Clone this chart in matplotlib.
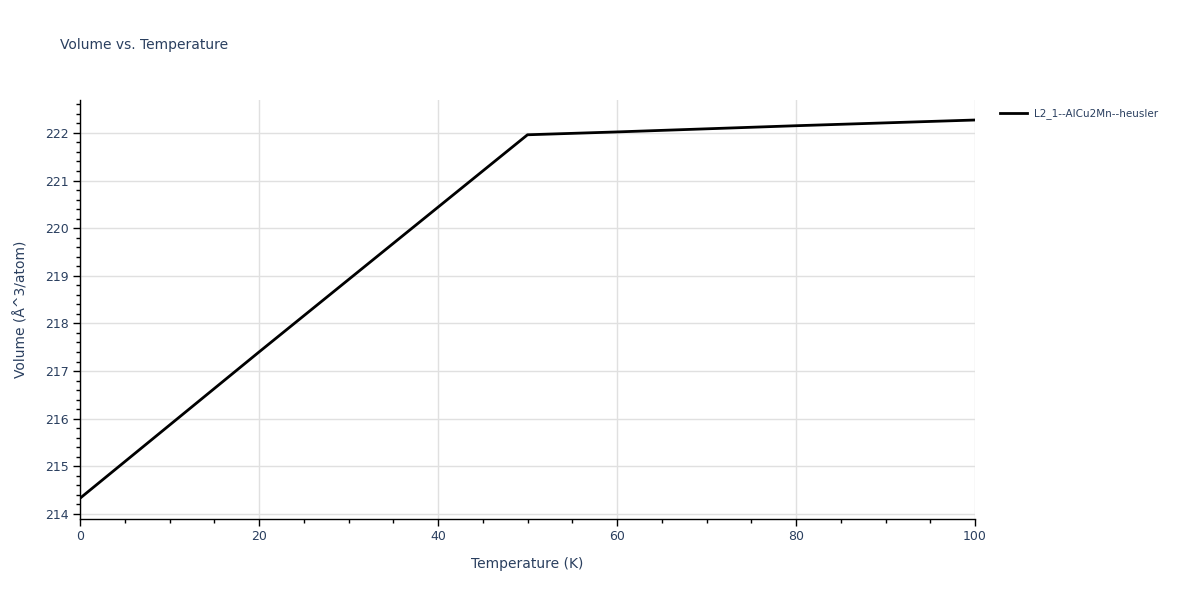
import matplotlib
matplotlib.use("Agg")
import matplotlib.pyplot as plt
from matplotlib.ticker import MultipleLocator

temperature = [0, 20, 40, 50, 60, 80, 100]
volume = [214.33, 217.40, 220.44, 221.96, 222.02, 222.15, 222.27]
series_name = "L2_1--AlCu2Mn--heusler"

plt.rcParams['font.family'] = ['DejaVu Sans']
txt = '#2a3f5f'

fig = plt.figure(figsize=(12, 6), dpi=100)
ax = fig.add_axes([80/1200, 1-519/600, (975-80)/1200, (519-100)/600])
ax.plot(temperature, volume, color='black', lw=2, label=series_name)
ax.set_xlim(0, 100)
ax.set_ylim(213.895, 222.69)
ax.xaxis.set_major_locator(MultipleLocator(20))
ax.xaxis.set_minor_locator(MultipleLocator(5))
ax.yaxis.set_major_locator(MultipleLocator(1))
ax.yaxis.set_minor_locator(MultipleLocator(0.2))
ax.grid(True, which='major', color='#e0e0e0', lw=1)
ax.set_axisbelow(True)
for s in ['top', 'right']:
    ax.spines[s].set_visible(False)
for s in ['left', 'bottom']:
    ax.spines[s].set_color('black')
    ax.spines[s].set_linewidth(1)
ax.tick_params(which='major', length=5, width=1, color='black', labelsize=9, labelcolor=txt, direction='out', pad=3)
ax.tick_params(which='minor', length=3, width=1, color='black', direction='out')
ax.set_xlabel('Temperature (K)', fontsize=10, color=txt, labelpad=10)
ax.set_ylabel('Volume (Å^3/atom)', fontsize=10, color=txt, labelpad=12)
fig.text(60/1200, 1-45/600, 'Volume vs. Temperature', fontsize=10, color=txt, va='center', ha='left')
leg = fig.legend(loc='center left', bbox_to_anchor=(995/1200, 1-114/600), frameon=False,
                 fontsize=7.5, handlelength=2.6, handletextpad=0.6, borderpad=0)
for t in leg.get_texts():
    t.set_color(txt)
fig.savefig('out.png', dpi=100)
